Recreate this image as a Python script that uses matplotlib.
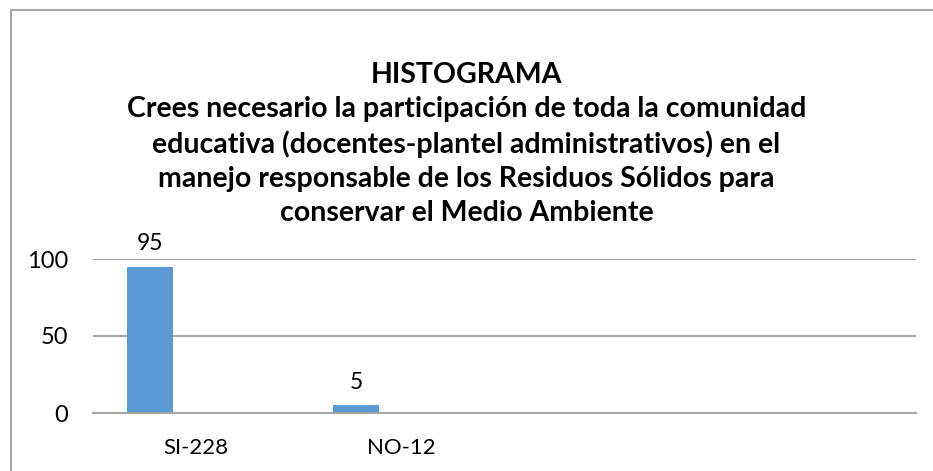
import matplotlib.pyplot as plt
import matplotlib.patches as mpatches
import numpy as np

plt.rcParams['font.family'] = ['Lato', 'DejaVu Sans']

categorias = ["SI-228", "NO-12", "", ""]
valores = [95, 5, np.nan, np.nan]
titulo = ("HISTOGRAMA\n"
          "Crees necesario la participación de toda la comunidad\n"
          "educativa (docentes-plantel administrativos) en el\n"
          "manejo responsable de los Residuos Sólidos para\n"
          "conservar el Medio Ambiente")

fig = plt.figure(figsize=(9.33, 4.71), dpi=100)
W, H = 933, 471

# marco del grafico
fig.patches.append(mpatches.Rectangle((11 / W, -0.1), 1.2, (H - 10) / H + 0.1,
                                      transform=fig.transFigure, fill=False,
                                      edgecolor='#a6a6a6', linewidth=1.5))

ax = fig.add_axes([93 / W, 1 - 413 / H, (916 - 93) / W, (413 - 259) / H])

x = np.arange(len(categorias))
ancho = 0.222
ax.bar(x - ancho, valores, width=ancho, color='#5b9bd5')
for xi, v in zip(x, valores):
    if not np.isnan(v):
        ax.text(xi - ancho, v + 8, f"{v:g}", ha='center', va='bottom', fontsize=16.5)

ax.set_xlim(-0.5, len(categorias) - 0.5)
ax.set_ylim(0, 100)
ax.set_yticks([0, 50, 100])
ax.set_xticks(x)
ax.set_xticklabels(categorias, fontsize=16)
ax.tick_params(axis='y', labelsize=17, length=0, pad=18)
ax.tick_params(axis='x', length=0, pad=18)
ax.yaxis.grid(True, color='#a6a6a6', linewidth=1.5)
ax.set_axisbelow(True)
for s in ['top', 'right', 'left']:
    ax.spines[s].set_visible(False)
ax.spines['bottom'].set_color('#a6a6a6')
ax.spines['bottom'].set_linewidth(1.5)

fig.text(0.5, 1 - 144 / H, titulo, ha='center', va='center', fontsize=20.5,
         fontweight='bold', linespacing=1.37)

fig.savefig("out.png", dpi=100)
